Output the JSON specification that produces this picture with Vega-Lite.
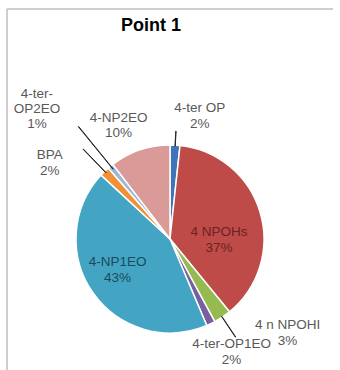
{
  "$schema": "https://vega.github.io/schema/vega-lite/v6.json",
  "width": 326,
  "height": 460,
  "autosize": {"type": "none"},
  "padding": {"left": 7, "top": 9, "right": 0, "bottom": 0},
  "background": "white",
  "title": {"text": "Point 1", "font": "Liberation Sans", "fontSize": 18, "fontWeight": "bold", "color": "#000000", "anchor": "middle", "dx": -19, "dy": 19, "offset": -17, "baseline": "middle"},
  "config": {"view": {"stroke": null}},
  "data": {"values": [
    {"name": "4-ter OP", "value": 1.7, "order": 1, "label": "4-ter OP\n2%"},
    {"name": "4 NPOHs", "value": 37.4, "order": 2, "label": "4 NPOHs\n37%"},
    {"name": "4 n NPOHI", "value": 3.0, "order": 3, "label": "4 n NPOHI\n3%"},
    {"name": "4-ter-OP1EO", "value": 1.5, "order": 4, "label": "4-ter-OP1EO\n2%"},
    {"name": "4-NP1EO", "value": 43.3, "order": 5, "label": "4-NP1EO\n43%"},
    {"name": "BPA", "value": 1.7, "order": 6, "label": "BPA\n2%"},
    {"name": "4-ter-OP2EO", "value": 1.0, "order": 7, "label": "4-ter-\nOP2EO\n1%"},
    {"name": "4-NP2EO", "value": 10.4, "order": 8, "label": "4-NP2EO\n10%"}
  ]},
  "transform": [
    {"stack": "value", "groupby": [], "sort": [{"field": "order", "order": "ascending"}], "as": ["v0", "v1"]},
    {"calculate": "(datum.v0 + datum.v1) / 2", "as": "mid"},
    {"calculate": "datum.mid + 0.05", "as": "mid2"}
  ],
  "layer": [
    {
      "transform": [{"filter": "datum.order === 1"}],
      "mark": {"type": "rule", "stroke": "#BFBFBF", "strokeWidth": 1.5},
      "encoding": {"y": {"value": 0}}
    },
    {
      "transform": [{"filter": "datum.order === 1"}],
      "mark": {"type": "rule", "stroke": "#BFBFBF", "strokeWidth": 1.5},
      "encoding": {"x": {"value": 0}}
    },
    {
      "mark": {"type": "arc", "radius": 94, "stroke": "white", "strokeWidth": 1.5},
      "encoding": {
        "theta": {"field": "v0", "type": "quantitative", "scale": {"domain": [0, 100]}},
        "theta2": {"field": "v1"},
        "color": {"field": "name", "type": "nominal", "legend": null,
          "scale": {"domain": ["4-ter OP", "4 NPOHs", "4 n NPOHI", "4-ter-OP1EO", "4-NP1EO", "BPA", "4-ter-OP2EO", "4-NP2EO"],
                    "range": ["#3F75B8", "#BE4B48", "#94BA50", "#7A5FA0", "#43A5C3", "#EE9139", "#9DB7DB", "#D99A98"]}}
      }
    },
    {
      "transform": [{"filter": "datum.name === '4-ter OP'"}],
      "mark": {"type": "arc", "radius": 108, "radius2": 93, "stroke": "#262626", "strokeWidth": 1, "fillOpacity": 0},
      "encoding": {"theta": {"field": "mid", "type": "quantitative", "scale": {"domain": [0, 100]}}, "theta2": {"field": "mid2"}}
    },
    {
      "transform": [{"filter": "datum.name === '4-ter-OP2EO'"}],
      "mark": {"type": "arc", "radius": 145, "radius2": 90, "stroke": "#262626", "strokeWidth": 1, "fillOpacity": 0},
      "encoding": {"theta": {"field": "mid", "type": "quantitative", "scale": {"domain": [0, 100]}}, "theta2": {"field": "mid2"}}
    },
    {
      "transform": [{"filter": "datum.name === 'BPA'"}],
      "mark": {"type": "arc", "radius": 125, "radius2": 92, "stroke": "#262626", "strokeWidth": 1, "fillOpacity": 0},
      "encoding": {"theta": {"field": "mid", "type": "quantitative", "scale": {"domain": [0, 100]}}, "theta2": {"field": "mid2"}}
    },
    {
      "transform": [{"filter": "datum.name === '4 n NPOHI'"}],
      "mark": {"type": "arc", "radius": 118, "radius2": 93, "stroke": "#262626", "strokeWidth": 1, "fillOpacity": 0},
      "encoding": {"theta": {"field": "mid", "type": "quantitative", "scale": {"domain": [0, 100]}}, "theta2": {"field": "mid2"}}
    },
    {
      "transform": [{"filter": "datum.name === '4-ter OP'"}],
      "mark": {"type": "text", "radius": 125, "dx": 23, "dy": -6, "font": "Liberation Sans", "fontSize": 13.5, "lineHeight": 16, "lineBreak": "\n", "color": "#595959", "align": "center", "baseline": "middle"},
      "encoding": {"theta": {"field": "mid", "type": "quantitative", "scale": {"domain": [0, 100]}}, "text": {"field": "label"}}
    },
    {
      "transform": [{"filter": "datum.name === '4 NPOHs'"}],
      "mark": {"type": "text", "radius": 50, "dx": 1, "dy": 7, "font": "Liberation Sans", "fontSize": 13.5, "lineHeight": 16, "lineBreak": "\n", "color": "#6A2321", "align": "center", "baseline": "middle"},
      "encoding": {"theta": {"field": "mid", "type": "quantitative", "scale": {"domain": [0, 100]}}, "text": {"field": "label"}}
    },
    {
      "transform": [{"filter": "datum.name === '4 n NPOHI'"}],
      "mark": {"type": "text", "radius": 150, "dx": 34, "dy": -39, "font": "Liberation Sans", "fontSize": 13.5, "lineHeight": 16, "lineBreak": "\n", "color": "#595959", "align": "center", "baseline": "middle"},
      "encoding": {"theta": {"field": "mid", "type": "quantitative", "scale": {"domain": [0, 100]}}, "text": {"field": "label"}}
    },
    {
      "transform": [{"filter": "datum.name === '4-ter-OP1EO'"}],
      "mark": {"type": "text", "radius": 128, "dx": 6, "dy": -10, "font": "Liberation Sans", "fontSize": 13.5, "lineHeight": 16, "lineBreak": "\n", "color": "#595959", "align": "center", "baseline": "middle"},
      "encoding": {"theta": {"field": "mid", "type": "quantitative", "scale": {"domain": [0, 100]}}, "text": {"field": "label"}}
    },
    {
      "transform": [{"filter": "datum.name === '4-NP1EO'"}],
      "mark": {"type": "text", "radius": 58, "dx": -5, "dy": -10, "font": "Liberation Sans", "fontSize": 13.5, "lineHeight": 16, "lineBreak": "\n", "color": "#1B4A5C", "align": "center", "baseline": "middle"},
      "encoding": {"theta": {"field": "mid", "type": "quantitative", "scale": {"domain": [0, 100]}}, "text": {"field": "label"}}
    },
    {
      "transform": [{"filter": "datum.name === 'BPA'"}],
      "mark": {"type": "text", "radius": 144, "dx": -20, "dy": 19, "font": "Liberation Sans", "fontSize": 13.5, "lineHeight": 16, "lineBreak": "\n", "color": "#595959", "align": "center", "baseline": "middle"},
      "encoding": {"theta": {"field": "mid", "type": "quantitative", "scale": {"domain": [0, 100]}}, "text": {"field": "label"}}
    },
    {
      "transform": [{"filter": "datum.name === '4-ter-OP2EO'"}],
      "mark": {"type": "text", "radius": 185, "dx": -16, "dy": -2, "font": "Liberation Sans", "fontSize": 13.5, "lineHeight": 15, "lineBreak": "\n", "color": "#595959", "align": "center", "baseline": "middle"},
      "encoding": {"theta": {"field": "mid", "type": "quantitative", "scale": {"domain": [0, 100]}}, "text": {"field": "label"}}
    },
    {
      "transform": [{"filter": "datum.name === '4-NP2EO'"}],
      "mark": {"type": "text", "radius": 123, "dx": -12, "dy": -5, "font": "Liberation Sans", "fontSize": 13.5, "lineHeight": 15, "lineBreak": "\n", "color": "#595959", "align": "center", "baseline": "middle"},
      "encoding": {"theta": {"field": "mid", "type": "quantitative", "scale": {"domain": [0, 100]}}, "text": {"field": "label"}}
    }
  ]
}
